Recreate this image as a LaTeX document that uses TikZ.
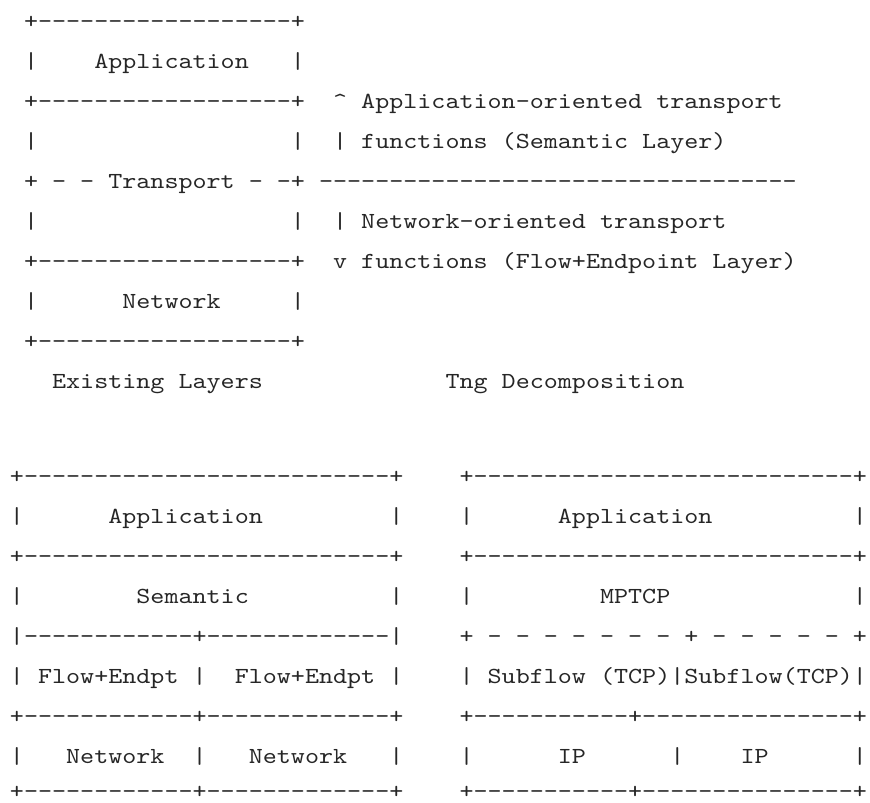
\documentclass[tikz,border=0pt]{standalone}
\usepackage{fontspec}
\setmonofont[Extension=.otf,FakeStretch=1.1636]{lmmono10-regular}
\newcommand\dashrun[1]{\foreach \k in {1,...,#1}{-}}
\newcommand\asciiat[4]{\node[asc] (#1) at ({9.975+14.05*#2},{803-#3}) {#4};}
\begin{document}
\begin{tikzpicture}[x=1pt,y=1pt,
  asc/.style={anchor=base west, inner sep=0pt, outer sep=0pt, font=\ttfamily\fontsize{23}{27}\selectfont, text=black!85}]
\useasboundingbox (0,0) rectangle (870,803);
% ---------- top: existing layers / Tng decomposition ----------
\asciiat{t0}{1}{28.2}{+\dashrun{18}+}
\asciiat{t1a}{1}{68.2}{|}
\asciiat{t1b}{6}{68.2}{Application}
\asciiat{t1c}{20}{68.2}{|}
\asciiat{t2a}{1}{108.2}{+\dashrun{18}+}
\asciiat{t2b}{23}{108.2}{\textasciicircum{} Application-oriented transport}
\asciiat{t3a}{1}{148.2}{|}
\asciiat{t3b}{20}{148.2}{|}
\asciiat{t3c}{23}{148.2}{| functions (Semantic Layer)}
\asciiat{t4a}{1}{188.2}{+ - - Transport - -+}
\asciiat{t4b}{22}{188.2}{\dashrun{34}}
\asciiat{t5a}{1}{228.2}{|}
\asciiat{t5b}{20}{228.2}{|}
\asciiat{t5c}{23}{228.2}{| Network-oriented transport}
\asciiat{t6a}{1}{268.2}{+\dashrun{18}+}
\asciiat{t6b}{23}{268.2}{v functions (Flow+Endpoint Layer)}
\asciiat{t7a}{1}{308.2}{|}
\asciiat{t7b}{8}{308.2}{Network}
\asciiat{t7c}{20}{308.2}{|}
\asciiat{t8}{1}{348.2}{+\dashrun{18}+}
\asciiat{t9a}{3}{388.2}{Existing Layers}
\asciiat{t9b}{31}{388.2}{Tng Decomposition}
% ---------- bottom left ----------
\asciiat{l0}{0}{483.2}{+\dashrun{26}+}
\asciiat{l1a}{0}{523.2}{|}
\asciiat{l1b}{7}{523.2}{Application}
\asciiat{l1c}{27}{523.2}{|}
\asciiat{l2}{0}{563.2}{+\dashrun{26}+}
\asciiat{l3a}{0}{603.2}{|}
\asciiat{l3b}{9}{603.2}{Semantic}
\asciiat{l3c}{27}{603.2}{|}
\asciiat{l4}{0}{643.2}{|\dashrun{12}+\dashrun{13}|}
\asciiat{l5a}{0}{683.2}{| Flow+Endpt |}
\asciiat{l5b}{16}{683.2}{Flow+Endpt}
\asciiat{l5c}{27}{683.2}{|}
\asciiat{l6}{0}{723.2}{+\dashrun{12}+\dashrun{13}+}
\asciiat{l7a}{0}{763.2}{|}
\asciiat{l7b}{4}{763.2}{Network}
\asciiat{l7c}{13}{763.2}{|}
\asciiat{l7d}{17}{763.2}{Network}
\asciiat{l7e}{27}{763.2}{|}
\asciiat{l8}{0}{798.5}{+\dashrun{12}+\dashrun{13}+}
% ---------- bottom right ----------
\asciiat{r0}{32}{483.2}{+\dashrun{27}+}
\asciiat{r1a}{32}{523.2}{|}
\asciiat{r1b}{39}{523.2}{Application}
\asciiat{r1c}{60}{523.2}{|}
\asciiat{r2}{32}{563.2}{+\dashrun{27}+}
\asciiat{r3a}{32}{603.2}{|}
\asciiat{r3b}{42}{603.2}{MPTCP}
\asciiat{r3c}{60}{603.2}{|}
\asciiat{r4}{32}{643.2}{+ - - - - - - - + - - - - - +}
\asciiat{r5}{32}{683.2}{| Subflow (TCP)|Subflow(TCP)|}
\asciiat{r6}{32}{723.2}{+\dashrun{11}+\dashrun{15}+}
\asciiat{r7a}{32}{763.2}{|}
\asciiat{r7b}{39}{763.2}{IP}
\asciiat{r7c}{47}{763.2}{|}
\asciiat{r7d}{52}{763.2}{IP}
\asciiat{r7e}{60}{763.2}{|}
\asciiat{r8}{32}{798.5}{+\dashrun{11}+\dashrun{15}+}
\end{tikzpicture}
\end{document}
